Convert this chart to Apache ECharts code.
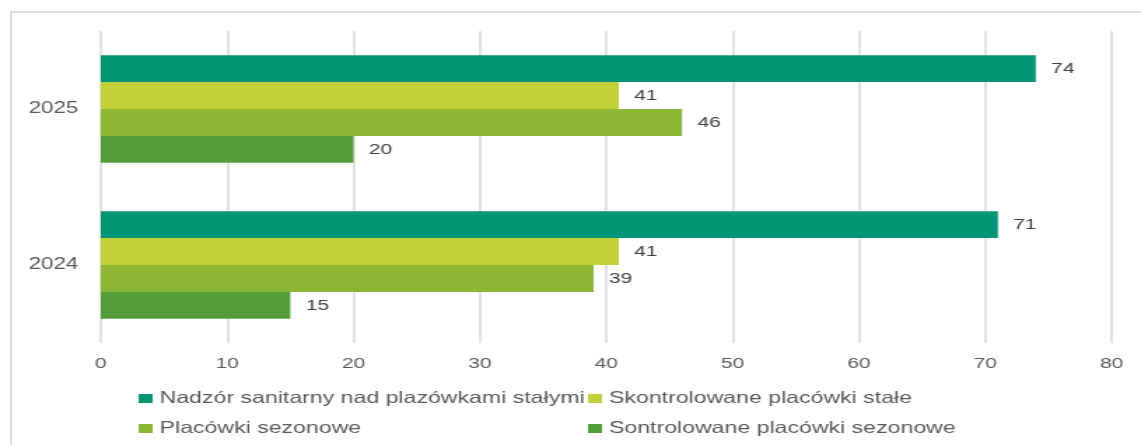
<!DOCTYPE html>
<html>
<head>
<meta charset="utf-8">
<script src="https://cdn.jsdelivr.net/npm/echarts@6/dist/echarts.min.js"></script>
<style>
  html, body { margin: 0; padding: 0; background: #fff; overflow: hidden; }
  #wrap { position: relative; width: 1141px; height: 445px; overflow: hidden; }
  #frame {
    position: absolute; left: 10px; top: 11px; width: 1300px; height: 600px;
    border: 2px solid #dcdcdc; box-sizing: border-box;
  }
  /* source picture is stretched horizontally, so the chart is drawn narrower and stretched */
  #chart {
    position: absolute; left: 0; top: 0; width: 815px; height: 445px;
    transform: scaleX(1.4); transform-origin: 0 0;
  }
</style>
</head>
<body>
<div id="wrap">
  <div id="frame"></div>
  <div id="chart"></div>
</div>
<script>
const years = ['2025', '2024']
const seriesNames = [
  'Nadzór sanitarny nad plazówkami stałymi',
  'Skontrolowane placówki stałe',
  'Placówki sezonowe',
  'Sontrolowane placówki sezonowe'
]
const nadzorValues = [74, 71]
const skontrolowaneStaleValues = [41, 41]
const sezonoweValues = [46, 39]
const sezonoweKontrolaValues = [20, 15]
const xTicks = { min: 0, max: 80, interval: 10 }
const colors = ['#039575', '#c2d03a', '#8bb735', '#539e3a']

const fontFamily = '"Liberation Sans", Arial, sans-serif'
const allValues = [nadzorValues, skontrolowaneStaleValues, sezonoweValues, sezonoweKontrolaValues]

// legend laid out as a 2x2 table: [left, top] per item
const legendSpots = [[99, 390], [420, 390], [99, 420], [420, 420]]

const chart = echarts.init(document.getElementById('chart'), null, { renderer: 'canvas' })

const option = {
  animation: false,
  textStyle: { fontFamily: fontFamily },
  grid: {
    left: 72,
    right: 21,
    top: 31,
    bottom: 102,
    containLabel: false
  },
  legend: seriesNames.map((name, i) => {
    return {
      data: [name],
      left: legendSpots[i][0],
      top: legendSpots[i][1],
      padding: 0,
      itemWidth: 10,
      itemHeight: 9,
      icon: 'rect',
      textStyle: { color: '#595959', fontSize: 16.5, fontFamily: fontFamily, lineHeight: 17 }
    }
  }),
  xAxis: {
    type: 'value',
    min: xTicks.min,
    max: xTicks.max,
    interval: xTicks.interval,
    axisLine: { show: false },
    axisTick: { show: false },
    axisLabel: { color: '#595959', fontSize: 15, margin: 13 },
    splitLine: { lineStyle: { color: '#d9d9d9', width: 1.5 } }
  },
  yAxis: {
    type: 'category',
    inverse: true,
    data: years,
    axisLine: { show: false },
    axisTick: { show: false },
    axisLabel: { color: '#595959', fontSize: 16, margin: 16 }
  },
  series: seriesNames.map((name, i) => {
    return {
      name: name,
      type: 'bar',
      data: allValues[i],
      barGap: '0%',
      barCategoryGap: '31%',
      itemStyle: { color: colors[i] },
      label: {
        show: true,
        position: 'right',
        distance: 11,
        color: '#404040',
        fontSize: 15
      }
    }
  })
}

chart.setOption(option)
</script>
</body>
</html>
